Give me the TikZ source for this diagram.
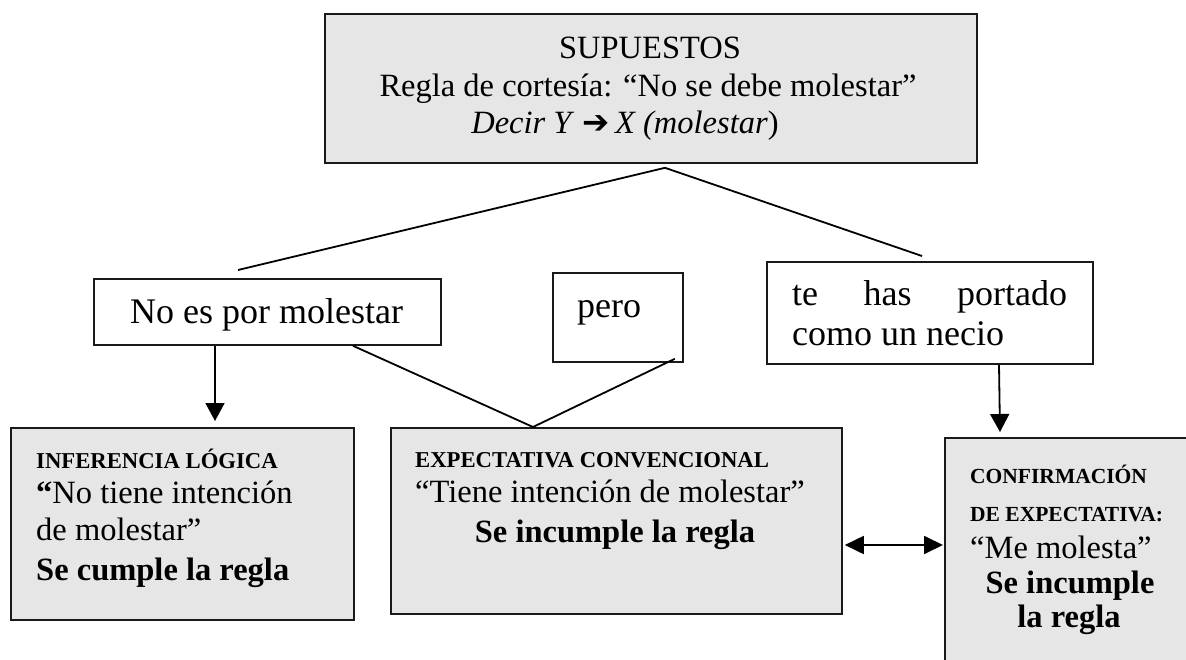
\documentclass[tikz,border=0pt]{standalone}
\usepackage{fontspec}
\setmainfont{Liberation Serif}
\newfontfamily\symfont{DejaVu Sans}
\usetikzlibrary{arrows.meta,calc}
\definecolor{boxgray}{HTML}{E6E6E6}
\definecolor{edge}{HTML}{1A1A1A}
\begin{document}
\begin{tikzpicture}[x=1pt,y=-1pt,
  boxbase/.style={draw=edge, line width=1.8pt, inner sep=0pt, anchor=north west},
  graybox/.style={boxbase, fill=boxgray},
  whitebox/.style={boxbase, fill=white},
  conn/.style={line width=1.8pt, draw=black},
  arr/.style={conn, -{Triangle[width=19pt,length=18pt]}},
  dblarr/.style={conn, {Triangle[width=18pt,length=19pt]}-{Triangle[width=18pt,length=19pt]}},
  lbl/.style={inner sep=0pt, anchor=base west},
  clbl/.style={inner sep=0pt, anchor=base},
  fmain/.style={font=\fontsize{32.5}{37}\selectfont},
  fbig/.style={font=\fontsize{36}{40}\selectfont},
  fhead/.style={font=\fontsize{22.7}{26}\selectfont\bfseries},
  fheadsm/.style={font=\fontsize{21.5}{25}\selectfont\bfseries},
  fbold/.style={font=\fontsize{32.5}{37}\selectfont\bfseries},
]
\useasboundingbox (0,0) rectangle (1186,659);
\clip (0,0) rectangle (1186,659);
\fill[white] (0,0) rectangle (1186,659);

% boxes
\node[graybox, minimum width=652pt, minimum height=149pt] (top) at (324,13) {};
\node[whitebox, minimum width=347pt, minimum height=66pt] (nomol) at (93,278) {};
\node[whitebox, minimum width=130pt, minimum height=89pt] (pero) at (552,272) {};
\node[whitebox, minimum width=326pt, minimum height=102pt] (tehas) at (766,261) {};
\node[graybox, minimum width=343pt, minimum height=192pt] (inf) at (10,427) {};
\node[graybox, minimum width=451pt, minimum height=186pt] (exp) at (390,427) {};
\node[graybox, minimum width=300pt, minimum height=260pt] (conf) at (944,437) {};

% connectors
\coordinate (apex) at ($(top.south west)+(341,4)$);
\coordinate (lfree) at (238,270);
\coordinate (rfree) at (922,256);
\draw[conn] (lfree) -- (apex) -- (rfree);

\coordinate (vtop1) at ($(nomol.south west)+(260,0)$);
\coordinate (vtop2) at ($(pero.south east)+(-9,-4)$);
\coordinate (vtip) at ($(exp.north west)+(143,0)$);
\draw[conn] (vtop1) -- (vtip) -- (vtop2);

\draw[arr] ($(nomol.south west)+(122,0)$) -- ($(inf.north west)+(205,-6)$);
\draw[arr] ($(tehas.south west)+(233,0)$) -- ($(conf.north west)+(56,-5)$);
\draw[dblarr] ($(exp.north east)+(2,118)$) -- ($(conf.north west)+(-1,108)$);

% texts
\node[clbl, fmain] (sup) at (650,58) {SUPUESTOS};
\node[clbl, fmain] (regla) at (648,96) {Regla de cortesía: “No se debe molestar”};
\node[clbl, fmain] (decir) at (625,133) {\textit{Decir Y} {\symfont\bfseries ➔}\,\textit{X (molestar})};

\node[lbl, fbig] (nomoltxt) at (130,323) {No es por molestar};
\node[lbl, fbig] (perotxt) at (577,317) {pero};
\node[lbl, fbig] (tehas1) at (792,305) {\makebox[275pt][s]{te\hfill has\hfill portado}};
\node[lbl, fbig] (tehas2) at (792,345) {como un necio};

\node[lbl, fhead] (inf1) at (36,468) {INFERENCIA LÓGICA};
\node[lbl, fmain] (inf2) at (36,503) {{\bfseries “}No tiene intención};
\node[lbl, fmain] (inf3) at (36,540) {de molestar”};
\node[lbl, fbold] (inf4) at (36,580) {Se cumple la regla};

\node[lbl, fhead] (exp1) at (415,467) {EXPECTATIVA CONVENCIONAL};
\node[lbl, fmain] (exp2) at (415,502) {“Tiene intención de molestar”};
\node[clbl, fbold] (exp3) at (615,542) {Se incumple la regla};

\node[lbl, fheadsm] (conf1) at (970,483) {CONFIRMACIÓN};
\node[lbl, fheadsm] (conf2) at (970,521) {DE EXPECTATIVA:};
\node[lbl, fmain] (conf3) at (970,558) {“Me molesta”};
\node[clbl, fbold] (conf4) at (1070,593) {Se incumple};
\node[clbl, fbold] (conf5) at (1069,627) {la regla};
\end{tikzpicture}
\end{document}
